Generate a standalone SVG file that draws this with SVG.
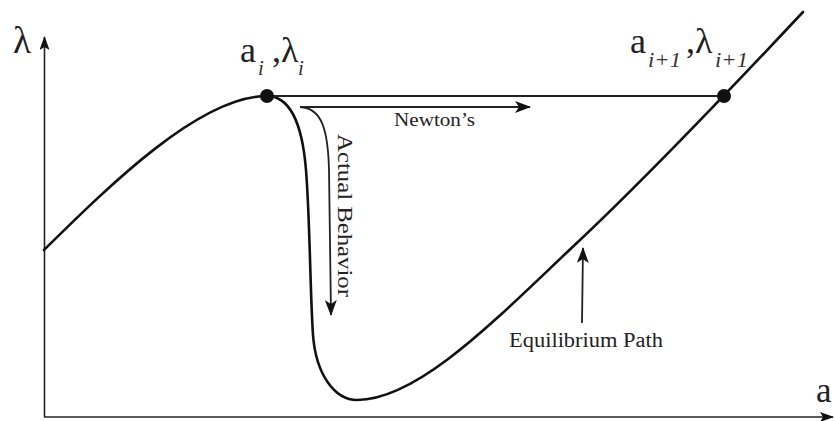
<svg xmlns="http://www.w3.org/2000/svg" width="835" height="421" viewBox="0 0 835 421">
<style>
.ax{fill:none;stroke:#222;stroke-width:1.6}
.crv{fill:none;stroke:#111;stroke-width:2.6;stroke-linecap:round}
.thin{fill:none;stroke:#222;stroke-width:1.8}
.lbl{font-family:"Liberation Serif","DejaVu Serif",serif;fill:#222}
.sub{font-family:"Liberation Serif","DejaVu Serif",serif;font-style:italic;fill:#333}
.dot{fill:#111}
</style>
<defs>
<marker id="ah" viewBox="0 0 16 12" refX="15" refY="6" markerWidth="16" markerHeight="12" markerUnits="userSpaceOnUse" orient="auto">
<path d="M0,0 L16,6 L0,12 L4,6 Z" fill="#111"/>
</marker>
<marker id="ahs" viewBox="0 0 14 10" refX="13" refY="5" markerWidth="14" markerHeight="10" markerUnits="userSpaceOnUse" orient="auto">
<path d="M0,0 L14,5 L0,10 L3,5 Z" fill="#111"/>
</marker>
</defs>
<rect width="835" height="421" fill="#fff"/>
<g id="axes">
<line class="ax" x1="44.5" y1="417" x2="44.5" y2="37" marker-end="url(#ahs)"/>
<line class="ax" x1="44" y1="417" x2="833" y2="417" marker-end="url(#ahs)"/>
<text class="lbl" x="13" y="53" font-size="37">λ</text>
<text class="lbl" x="816" y="402" font-size="35">a</text>
</g>
<g id="equilibrium-path">
<path class="crv" d="M44,250 C110,185 200,96 267,96 C288,96 302,120 306,170 C310,220 310,290 313,335 C316,375 335,400 357,400 C420,400 500,315 580,240 C650,174 758,60 803,12"/>
</g>
<g id="connectors">
<line class="thin" x1="267" y1="96" x2="724" y2="96"/>
<line class="thin" x1="300" y1="107" x2="530" y2="107" marker-end="url(#ah)"/>
<path class="thin" d="M300,107 C322,108 328,130 329,170 L331,315" marker-end="url(#ah)"/>
<line class="thin" x1="582" y1="323" x2="583" y2="248" marker-end="url(#ah)"/>
</g>
<g id="node-i">
<circle class="dot" cx="267" cy="96" r="7"/>
<text class="lbl" x="240" y="62" font-size="36">a</text>
<text class="sub" x="258" y="75" font-size="21">i</text>
<text class="lbl" x="272" y="62" font-size="36">,</text>
<text class="lbl" x="281" y="62" font-size="36">λ</text>
<text class="sub" x="298" y="75" font-size="21">i</text>
</g>
<g id="node-i1">
<circle class="dot" cx="724" cy="96" r="7"/>
<text class="lbl" x="630" y="53" font-size="36">a</text>
<text class="sub" x="648" y="67" font-size="21" textLength="33" lengthAdjust="spacingAndGlyphs">i+1</text>
<text class="lbl" x="686" y="53" font-size="36">,</text>
<text class="lbl" x="695" y="53" font-size="36">λ</text>
<text class="sub" x="715" y="67" font-size="21" textLength="33" lengthAdjust="spacingAndGlyphs">i+1</text>
</g>
<g id="labels">
<text class="lbl" x="394" y="126" font-size="19" textLength="81" lengthAdjust="spacingAndGlyphs">Newton’s</text>
<text class="lbl" transform="translate(338,134) rotate(90)" font-size="20" textLength="163" lengthAdjust="spacingAndGlyphs">Actual Behavior</text>
<text class="lbl" x="509" y="347" font-size="20" textLength="154" lengthAdjust="spacingAndGlyphs">Equilibrium Path</text>
</g>
</svg>
